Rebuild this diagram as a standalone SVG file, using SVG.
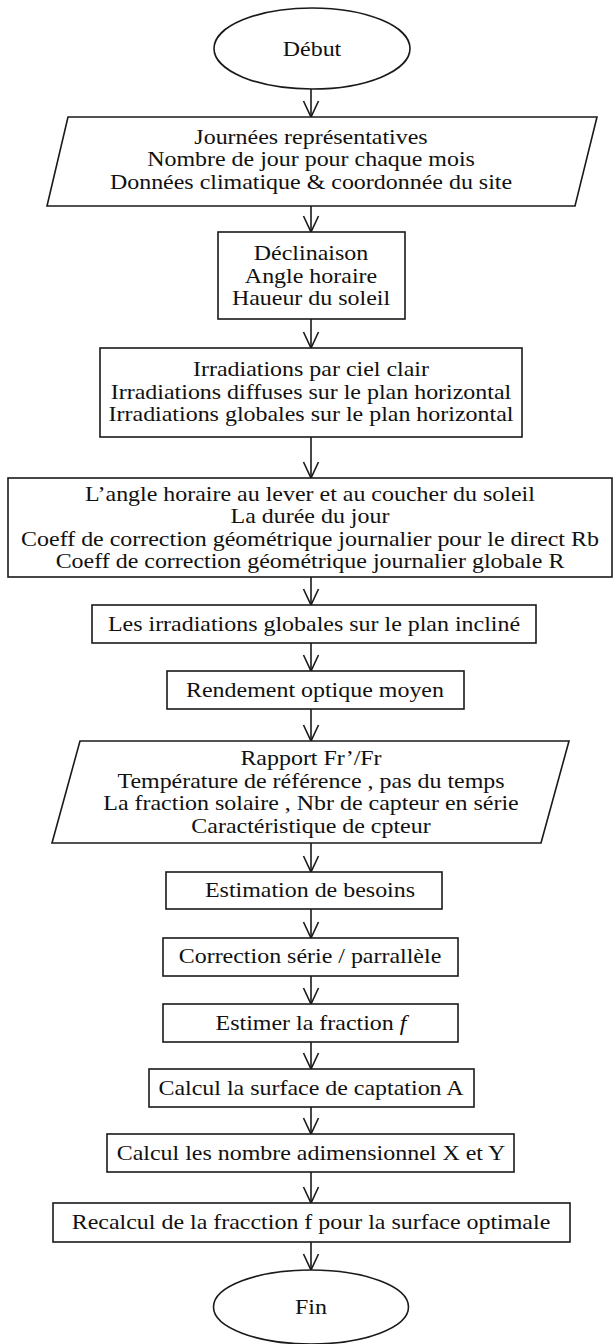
<svg xmlns="http://www.w3.org/2000/svg" width="614" height="1344" viewBox="0 0 614 1344">
<style>
.s{fill:#fff;stroke:#1a1a1a;stroke-width:1.6}
.t{font-family:"Liberation Serif","Times New Roman",serif;font-size:20.3px;fill:#111;text-anchor:middle}
.c{stroke:#1a1a1a;stroke-width:1.6;fill:none}
</style>
<defs>
<marker id="ah" markerUnits="userSpaceOnUse" viewBox="-18 -10 20 20" refX="0" refY="0" markerWidth="20" markerHeight="20" orient="auto" overflow="visible">
<path d="M-16,-7.5 L0,0 L-16,7.5" fill="none" stroke="#1a1a1a" stroke-width="1.6"/>
</marker>
</defs>
<rect width="614" height="1344" fill="#fff"/>
<g id="connectors">
<line class="c" x1="311" y1="89" x2="311" y2="117" marker-end="url(#ah)"/>
<line class="c" x1="311" y1="206" x2="311" y2="232" marker-end="url(#ah)"/>
<line class="c" x1="311" y1="319" x2="311" y2="348" marker-end="url(#ah)"/>
<line class="c" x1="311" y1="437" x2="311" y2="478" marker-end="url(#ah)"/>
<line class="c" x1="311" y1="577" x2="311" y2="605" marker-end="url(#ah)"/>
<line class="c" x1="311" y1="643" x2="311" y2="671" marker-end="url(#ah)"/>
<line class="c" x1="311" y1="709" x2="311" y2="741" marker-end="url(#ah)"/>
<line class="c" x1="311" y1="843" x2="311" y2="872" marker-end="url(#ah)"/>
<line class="c" x1="311" y1="909" x2="311" y2="938" marker-end="url(#ah)"/>
<line class="c" x1="311" y1="976" x2="311" y2="1004" marker-end="url(#ah)"/>
<line class="c" x1="311" y1="1042" x2="311" y2="1069" marker-end="url(#ah)"/>
<line class="c" x1="311" y1="1107" x2="311" y2="1134" marker-end="url(#ah)"/>
<line class="c" x1="311" y1="1172" x2="311" y2="1203" marker-end="url(#ah)"/>
<line class="c" x1="311" y1="1242" x2="311" y2="1270" marker-end="url(#ah)"/>
</g>
<g id="debut">
<ellipse class="s" cx="312" cy="48.5" rx="98" ry="40.5"/>
<text class="t" transform="translate(312 0) scale(1.18 1)" y="56">Début</text>
</g>
<g id="donnees">
<polygon class="s" points="68,117 597,117 575,206 47,206"/>
<text class="t" transform="translate(311 0) scale(1.18 1)" y="144">Journées représentatives</text>
<text class="t" transform="translate(311 0) scale(1.18 1)" y="166.5">Nombre de jour pour chaque mois</text>
<text class="t" transform="translate(311 0) scale(1.18 1)" y="189">Données climatique &amp; coordonnée du site</text>
</g>
<g id="declinaison">
<rect class="s" x="218" y="232" width="187" height="87"/>
<text class="t" transform="translate(311 0) scale(1.18 1)" y="260.5">Déclinaison</text>
<text class="t" transform="translate(311 0) scale(1.18 1)" y="283">Angle horaire</text>
<text class="t" transform="translate(311 0) scale(1.18 1)" y="305.5">Haueur du soleil</text>
</g>
<g id="irradiations">
<rect class="s" x="100" y="348" width="422" height="89"/>
<text class="t" transform="translate(311 0) scale(1.18 1)" y="376.5">Irradiations par ciel clair</text>
<text class="t" transform="translate(311 0) scale(1.18 1)" y="399">Irradiations diffuses sur le plan horizontal</text>
<text class="t" transform="translate(311 0) scale(1.18 1)" y="421.5">Irradiations globales sur le plan horizontal</text>
</g>
<g id="angle">
<rect class="s" x="8" y="478" width="604" height="99"/>
<text class="t" transform="translate(310 0) scale(1.18 1)" y="500.8">L’angle horaire au lever et au coucher du soleil</text>
<text class="t" transform="translate(310 0) scale(1.18 1)" y="523.3">La durée du jour</text>
<text class="t" transform="translate(310 0) scale(1.18 1)" y="545.8">Coeff de correction géométrique journalier pour le direct Rb</text>
<text class="t" transform="translate(310 0) scale(1.18 1)" y="568.3">Coeff de correction géométrique journalier globale R</text>
</g>
<g id="incline">
<rect class="s" x="92" y="605" width="444" height="38"/>
<text class="t" transform="translate(314 0) scale(1.18 1)" y="631">Les irradiations globales sur le plan incliné</text>
</g>
<g id="rendement">
<rect class="s" x="167" y="671" width="297" height="38"/>
<text class="t" transform="translate(315 0) scale(1.18 1)" y="697">Rendement optique moyen</text>
</g>
<g id="rapport">
<polygon class="s" points="80,741 569,741 541,843 52,843"/>
<text class="t" transform="translate(311 0) scale(1.18 1)" y="765.3">Rapport Fr’/Fr</text>
<text class="t" transform="translate(311 0) scale(1.18 1)" y="787.8">Température de référence , pas du temps</text>
<text class="t" transform="translate(311 0) scale(1.18 1)" y="810.3">La fraction solaire ,  Nbr de capteur en série</text>
<text class="t" transform="translate(311 0) scale(1.18 1)" y="832.8">Caractéristique de cpteur</text>
</g>
<g id="besoins">
<rect class="s" x="166" y="872" width="276" height="37"/>
<text class="t" transform="translate(310 0) scale(1.18 1)" y="897">Estimation de besoins</text>
</g>
<g id="correction">
<rect class="s" x="163" y="938" width="295" height="38"/>
<text class="t" transform="translate(310 0) scale(1.18 1)" y="963">Correction série / parrallèle</text>
</g>
<g id="estimer">
<rect class="s" x="163" y="1004" width="295" height="38"/>
<text class="t" transform="translate(311 0) scale(1.18 1)" y="1030">Estimer la fraction <tspan font-style="italic">f</tspan></text>
</g>
<g id="surface">
<rect class="s" x="149" y="1069" width="325" height="38"/>
<text class="t" transform="translate(311 0) scale(1.18 1)" y="1095">Calcul la surface de captation A</text>
</g>
<g id="nombre">
<rect class="s" x="107" y="1134" width="407" height="38"/>
<text class="t" transform="translate(311 0) scale(1.18 1)" y="1160">Calcul les nombre adimensionnel X et Y</text>
</g>
<g id="recalcul">
<rect class="s" x="53" y="1203" width="517" height="39"/>
<text class="t" transform="translate(311 0) scale(1.18 1)" y="1229">Recalcul de la fracction f pour la surface optimale</text>
</g>
<g id="fin">
<ellipse class="s" cx="311" cy="1307" rx="97.5" ry="37"/>
<text class="t" transform="translate(311 0) scale(1.18 1)" y="1314">Fin</text>
</g>
</svg>
